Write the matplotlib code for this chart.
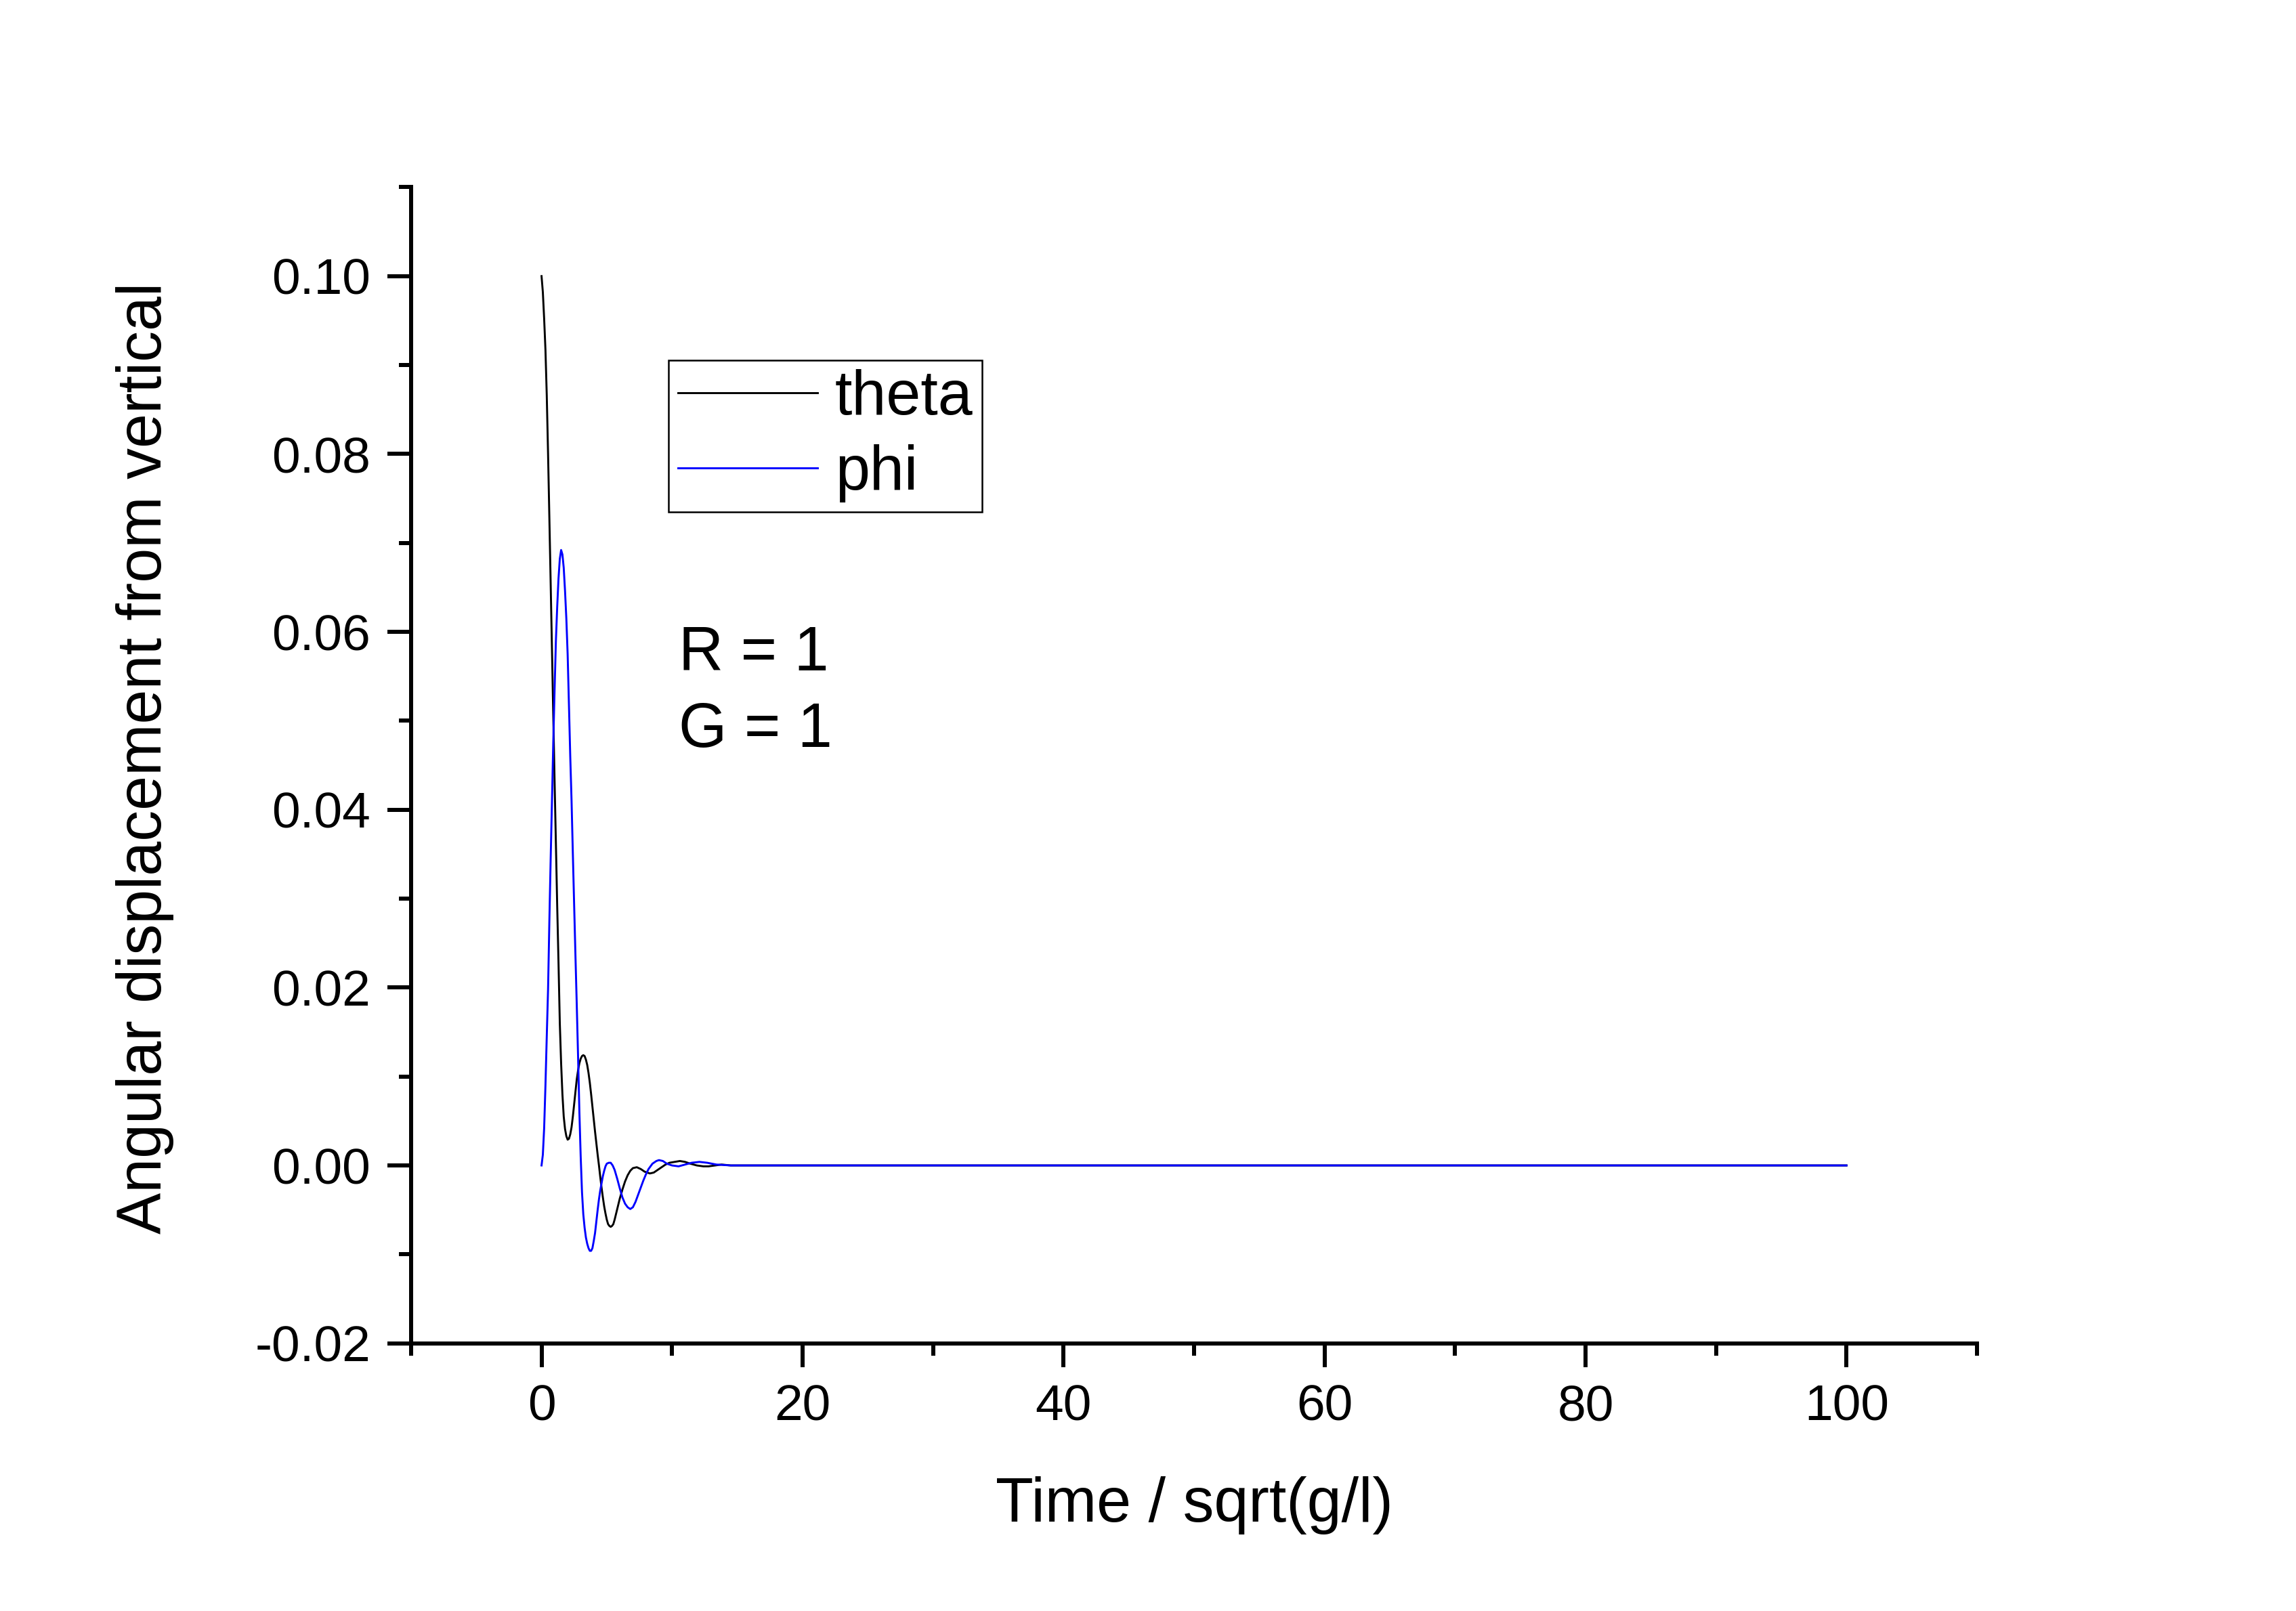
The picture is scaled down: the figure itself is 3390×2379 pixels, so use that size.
import matplotlib
matplotlib.use("Agg")
import matplotlib.pyplot as plt
from matplotlib.ticker import MultipleLocator, FuncFormatter

plt.rcParams['font.family'] = ['Liberation Sans', 'DejaVu Sans']
plt.rcParams['axes.unicode_minus'] = False

# ---- data ----
theta_t = [0.0, 0.1, 0.2, 0.3, 0.4, 0.5, 0.6, 0.7, 0.8, 0.9, 1.0, 1.1, 1.2, 1.3, 1.4,
           1.5, 1.6, 1.7, 1.8, 1.9, 2.0, 2.1, 2.2, 2.3, 2.4, 2.5, 2.6, 2.7, 2.8, 2.9,
           3.0, 3.1, 3.2, 3.3, 3.4, 3.5, 3.6, 3.7, 3.8, 3.9, 4.0, 4.1, 4.2, 4.3, 4.4,
           4.5, 4.6, 4.7, 4.8, 4.9, 5.0, 5.1, 5.2, 5.3, 5.4, 5.5, 5.6, 5.7, 5.8, 5.9,
           6.0, 6.2, 6.4, 6.6, 6.8, 7.0, 7.3, 7.6, 7.9, 8.3, 8.6, 8.9, 9.2, 9.5, 9.8,
           10.2, 10.6, 11.0, 11.4, 11.9, 12.4, 12.8, 13.3, 13.8, 14.5, 20.0, 40.0,
           60.0, 80.0, 100.0]
theta = [0.1000, 0.0982, 0.0952, 0.0917, 0.0866, 0.0800, 0.0728, 0.0654, 0.0580,
         0.0505, 0.0432, 0.0362, 0.0292, 0.0228, 0.0160, 0.0115, 0.0080, 0.0055,
         0.0041, 0.0033, 0.0029, 0.0030, 0.0035, 0.0043, 0.0055, 0.0069, 0.0083,
         0.0097, 0.0107, 0.0115, 0.0120, 0.0123, 0.0124, 0.0123, 0.0119, 0.0113,
         0.0104, 0.0093, 0.0080, 0.0066, 0.0052, 0.0038, 0.0025, 0.0012, 0.0000,
         -0.0013, -0.0025, -0.0036, -0.0046, -0.0054, -0.0061, -0.0066, -0.0068,
         -0.0069, -0.0068, -0.0066, -0.0061, -0.0055, -0.0049, -0.0043, -0.0037,
         -0.0027, -0.0018, -0.0011, -0.0006, -0.0003, -0.0002, -0.0004, -0.0007,
         -0.0009, -0.0008, -0.0005, -0.0002, 0.0001, 0.0003, 0.0004, 0.0005, 0.0004,
         0.0002, 0.0000, -0.0001, -0.0001, 0.0000, 0.0001, 0.0000, 0.0, 0.0, 0.0,
         0.0, 0.0]

phi_t = [0.0, 0.1, 0.2, 0.3, 0.4, 0.5, 0.6, 0.7, 0.8, 0.9, 1.0, 1.1, 1.2, 1.3, 1.4,
         1.5, 1.6, 1.7, 1.8, 1.9, 2.0, 2.1, 2.2, 2.3, 2.4, 2.5, 2.6, 2.7, 2.8, 2.9,
         3.0, 3.1, 3.2, 3.3, 3.4, 3.5, 3.6, 3.7, 3.8, 3.9, 4.0, 4.1, 4.2, 4.3, 4.4,
         4.5, 4.6, 4.7, 4.8, 4.9, 5.0, 5.15, 5.3, 5.45, 5.6, 5.8, 6.0, 6.2, 6.4, 6.6,
         6.8, 7.0, 7.2, 7.4, 7.6, 7.8, 8.0, 8.2, 8.5, 8.8, 9.0, 9.3, 9.6, 10.0, 10.5,
         11.0, 11.5, 12.1, 12.7, 13.4, 14.5, 20.0, 40.0, 60.0, 80.0, 100.0]
phi = [0.0000, 0.0012, 0.0042, 0.0090, 0.0145, 0.0198, 0.0275, 0.0345, 0.0410,
       0.0476, 0.0535, 0.0590, 0.0628, 0.0660, 0.0682, 0.0692, 0.0687, 0.0672,
       0.0646, 0.0615, 0.0575, 0.0518, 0.0460, 0.0410, 0.0350, 0.0292, 0.0235,
       0.0180, 0.0122, 0.0060, 0.0010, -0.0030, -0.0055, -0.0070, -0.0081, -0.0088,
       -0.0093, -0.0096, -0.0096, -0.0093, -0.0085, -0.0076, -0.0063, -0.0050,
       -0.0038, -0.0028, -0.0020, -0.0012, -0.0006, -0.0001, 0.0002, 0.0003, 0.0003,
       0.0000, -0.0005, -0.0015, -0.0026, -0.0036, -0.0043, -0.0047, -0.0049,
       -0.0047, -0.0041, -0.0033, -0.0025, -0.0017, -0.0010, -0.0004, 0.0002,
       0.0005, 0.0006, 0.0005, 0.0002, 0.0000, -0.0001, 0.0001, 0.0003, 0.0004,
       0.0003, 0.0001, 0.0, 0.0, 0.0, 0.0, 0.0, 0.0]

series_labels = ["theta", "phi"]
x_major_ticks = [0, 20, 40, 60, 80, 100]
y_major_ticks = [-0.02, 0.00, 0.02, 0.04, 0.06, 0.08, 0.10]
annotation_lines = ["R = 1", "G = 1"]

# ---- figure ----
W, H = 3390, 2379
fig = plt.figure(figsize=(W / 300, H / 300), dpi=300)
ax = fig.add_axes([606.9 / W, 1 - 1983.7 / H, (2919 - 606.9) / W, (1983.7 - 276.4) / H])

ax.plot(theta_t, theta, color='black', lw=0.7, label=series_labels[0])
ax.plot(phi_t, phi, color='#0000ff', lw=0.7, label=series_labels[1])

ax.set_xlim(-10, 110)
ax.set_ylim(-0.02, 0.11)

for s in ['top', 'right']:
    ax.spines[s].set_visible(False)
for s in ['left', 'bottom']:
    ax.spines[s].set_linewidth(1.44)

ax.set_xticks(x_major_ticks)
ax.set_yticks(y_major_ticks)
ax.xaxis.set_minor_locator(MultipleLocator(10))
ax.yaxis.set_minor_locator(MultipleLocator(0.01))
ax.xaxis.set_major_formatter(FuncFormatter(lambda v, p: "%d" % round(v)))
ax.yaxis.set_major_formatter(FuncFormatter(lambda v, p: "%.2f" % v))
ax.tick_params(which='major', direction='out', length=8.4, width=1.44,
               labelsize=18, pad=6)
ax.tick_params(which='minor', direction='out', length=4.3, width=1.44)

ax.set_xlabel("Time / sqrt(g/l)", fontsize=22)
ax.set_ylabel("Angular displacement from vertical", fontsize=22)
ax.xaxis.set_label_coords(0.5, -0.154)
ax.xaxis.label.set_verticalalignment('baseline')
ax.yaxis.set_label_coords(-0.1594, 0.506)
ax.yaxis.label.set_rotation_mode('anchor')
ax.yaxis.label.set_verticalalignment('baseline')
ax.yaxis.label.set_horizontalalignment('center')

leg = ax.legend(loc='upper left', bbox_to_anchor=(987 / W, 1 - 531.7 / H),
                bbox_transform=fig.transFigure, borderaxespad=0, fontsize=22,
                handlelength=2.25, handletextpad=0.28, labelspacing=0.27,
                borderpad=0.15, frameon=True, fancybox=False, framealpha=1,
                edgecolor='black')
leg.get_frame().set_linewidth(0.6)

fig.text(1002.5 / W, 1 - 990 / H, annotation_lines[0], fontsize=22,
         ha='left', va='baseline')
fig.text(1002.5 / W, 1 - 1103.3 / H, annotation_lines[1], fontsize=22,
         ha='left', va='baseline')

fig.savefig("out.png", dpi=300, facecolor='white')
